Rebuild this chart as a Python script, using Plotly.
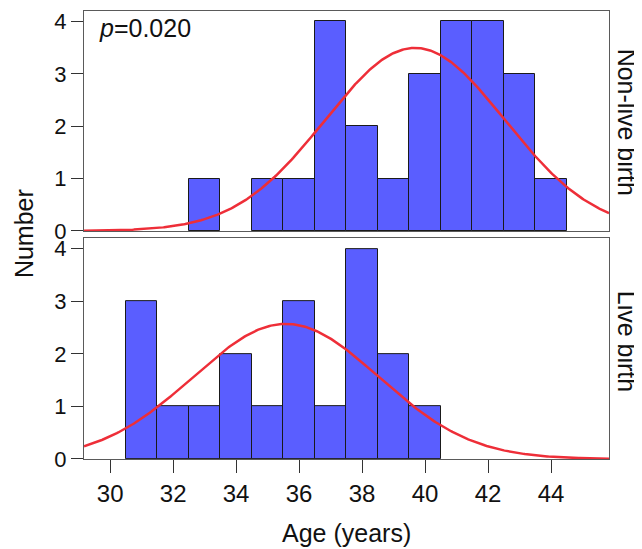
import numpy as np
import plotly.graph_objects as go

# Data
nonlive_ages = [33, 35, 36, 37, 38, 39, 40, 41, 42, 43, 44]
nonlive_counts = [1, 1, 1, 4, 2, 1, 3, 4, 4, 3, 1]
live_ages = [31, 32, 33, 34, 35, 36, 37, 38, 39, 40]
live_counts = [3, 1, 1, 2, 1, 3, 1, 4, 2, 1]
x_ticks = [30, 32, 34, 36, 38, 40, 42, 44]
y_ticks = [0, 1, 2, 3, 4]
p_text = "<i>p</i>=0.020"

XR = [29.17, 45.84]
YR = [0, 4.2]
BAR = "#5a5eff"
RED = "#ee2e38"
FONT = "Liberation Sans, Arial, sans-serif"
FSX = 24
FSY = 22
FT = 25


def normal_fit(ages, counts):
    a = np.repeat(ages, counts).astype(float)
    n = len(a)
    mu = a.mean()
    sd = a.std(ddof=1)
    xs = np.linspace(XR[0], XR[1], 400)
    ys = n * 1.0 / (sd * np.sqrt(2 * np.pi)) * np.exp(-0.5 * ((xs - mu) / sd) ** 2)
    return xs, ys


fig = go.Figure()
for ages, counts, xa, ya in [(nonlive_ages, nonlive_counts, "x", "y"),
                             (live_ages, live_counts, "x2", "y2")]:
    fig.add_trace(go.Bar(x=ages, y=counts, width=1, xaxis=xa, yaxis=ya,
                         marker=dict(color=BAR, line=dict(color="#1a1a1a", width=1)),
                         showlegend=False))
    xs, ys = normal_fit(ages, counts)
    fig.add_trace(go.Scatter(x=xs, y=ys, mode="lines", xaxis=xa, yaxis=ya,
                             line=dict(color=RED, width=2.5), showlegend=False))

axis_common = dict(range=XR, showgrid=False, zeroline=False, showline=True,
                   linecolor="#5a5a5a", linewidth=1, mirror=True)
yaxis_common = dict(range=YR, tickvals=y_ticks, showgrid=False, zeroline=False,
                    showline=True, linecolor="#5a5a5a", linewidth=1, mirror=True,
                    ticks="outside", ticklen=12, tickcolor="#333",
                    tickfont=dict(size=FSY, color="#111", family=FONT))

fig.update_layout(
    width=634, height=541,
    margin=dict(l=76, r=33, t=1, b=90),
    paper_bgcolor="white", plot_bgcolor="white",
    bargap=0,
    font=dict(family=FONT, size=FT, color="#111"),
    xaxis=dict(**axis_common, anchor="y", showticklabels=False, ticks=""),
    yaxis=dict(**yaxis_common, domain=[0.509, 1.0], anchor="x"),
    xaxis2=dict(**axis_common, anchor="y2", tickvals=x_ticks, ticks="outside",
                ticklen=13, tickcolor="#333",
                tickfont=dict(size=FSX, color="#111", family=FONT)),
    yaxis2=dict(**yaxis_common, domain=[0.0, 0.493], anchor="x2"),
    annotations=[
        dict(text=p_text, x=0.025, y=0.962, xref="paper", yref="paper",
             xanchor="left", yanchor="middle", showarrow=False),
        dict(text="Non-live birth", x=1.0, y=0.753, xref="paper", yref="paper",
             xanchor="left", yanchor="middle", xshift=2, textangle=90, showarrow=False),
        dict(text="Live birth", x=1.0, y=0.264, xref="paper", yref="paper",
             xanchor="left", yanchor="middle", xshift=2, textangle=90, showarrow=False),
        dict(text="Number", x=0, y=0.502, xref="paper", yref="paper",
             xanchor="right", yanchor="middle", xshift=-44, textangle=-90, showarrow=False),
        dict(text="Age (years)", x=0.5, y=0, xref="paper", yref="paper",
             yanchor="middle", yshift=-74, showarrow=False),
    ],
)
fig.write_html("out.html")
